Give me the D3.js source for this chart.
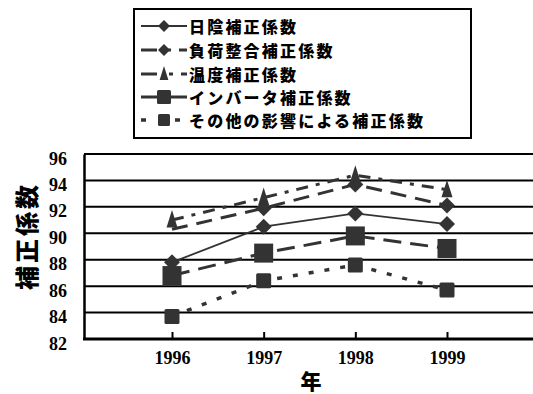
<!DOCTYPE html>
<html>
<head>
<meta charset="utf-8">
<script src="https://cdn.jsdelivr.net/npm/d3@7"></script>
<style>
  html, body { margin: 0; padding: 0; background: #fff; }
  svg { display: block; }
</style>
</head>
<body>
<svg id="chart" width="533" height="394"></svg>
<script>
// Years on the horizontal axis
const years = [1996, 1997, 1998, 1999];
// Correction factors per series (%)
const hikage   = [87.8, 90.5, 91.5, 90.7];   // 日陰補正係数
const fuka     = [90.3, 91.9, 93.7, 92.1];   // 負荷整合補正係数
const ondo     = [91.0, 92.7, 94.4, 93.3];   // 温度補正係数
const inverter = [86.8, 88.5, 89.8, 88.85];  // インバータ補正係数
const sonota   = [83.7, 86.4, 87.6, 85.7];   // その他の影響による補正係数
const seriesNames = ["日陰補正係数", "負荷整合補正係数", "温度補正係数", "インバータ補正係数", "その他の影響による補正係数"];
const yTicks = [82, 84, 86, 88, 90, 92, 94, 96];
const yTitle = "補正係数";
const xTitle = "年";

const ink = "#333";
const jp = "'Noto Sans CJK JP', 'Noto Sans', sans-serif";
const num = "'Liberation Serif', 'DejaVu Serif', serif";

const svg = d3.select("#chart");

const plot = { left: 84, right: 533, top: 154, bottom: 339 };
const x = d3.scaleLinear().domain([1996, 1999]).range([172, 447]);
const y = d3.scaleLinear().domain([82, 96]).range([plot.bottom, plot.top]);

// Horizontal gridlines
svg.append("g").selectAll("line").data(yTicks.filter(v => v > 82)).join("line")
  .attr("x1", plot.left).attr("x2", plot.right)
  .attr("y1", d => y(d)).attr("y2", d => y(d))
  .attr("stroke", "#000").attr("stroke-width", 2);

// Y axis with labels
const yAxis = d3.axisLeft(y).tickValues(yTicks).tickSize(0).tickPadding(17);
const gy = svg.append("g").attr("transform", `translate(${plot.left},0)`).call(yAxis);
gy.select(".domain").attr("stroke", "#000").attr("stroke-width", 2.5);
gy.selectAll("text")
  .attr("font-family", num).attr("font-weight", "bold").attr("font-size", 18)
  .attr("fill", "#000").attr("dy", "0.95em").attr("y", -7);

// X axis: ticks point up into the plot
const xAxis = d3.axisBottom(x).tickValues(years).tickFormat(d3.format("d")).tickSize(-7).tickSizeOuter(0).tickPadding(16);
const gx = svg.append("g").attr("transform", `translate(0,${plot.bottom})`).call(xAxis);
gx.select(".domain").remove();
gx.append("line").attr("x1", plot.left - 1).attr("x2", plot.right).attr("y1", 0).attr("y2", 0)
  .attr("stroke", "#000").attr("stroke-width", 3);
gx.selectAll(".tick line").attr("stroke", "#000").attr("stroke-width", 2);
gx.selectAll("text")
  .attr("font-family", num).attr("font-weight", "bold").attr("font-size", 18)
  .attr("fill", "#000").attr("y", 25).attr("dy", 0);

// Axis titles
svg.append("text").attr("transform", "translate(36,236) rotate(-90)")
  .attr("text-anchor", "middle").attr("font-family", jp).attr("font-weight", 900)
  .attr("font-size", 24).attr("letter-spacing", 3).attr("fill", "#000").text(yTitle);
svg.append("text").attr("x", 311).attr("y", 389).attr("text-anchor", "middle")
  .attr("font-family", jp).attr("font-weight", 900).attr("font-size", 21)
  .attr("fill", "#000").text(xTitle);

// Marker shapes
function marker(g, kind, cx, cy, s) {
  if (kind === "diamond") {
    g.append("path").attr("d", `M${cx},${cy - s}L${cx + s},${cy}L${cx},${cy + s}L${cx - s},${cy}Z`).attr("fill", ink);
  } else if (kind === "triangle") {
    g.append("path").attr("d", `M${cx},${cy - s}L${cx + s * 0.55},${cy + s * 0.75}L${cx - s * 0.55},${cy + s * 0.75}Z`).attr("fill", ink);
  } else if (kind === "square") {
    g.append("rect").attr("x", cx - s).attr("y", cy - s).attr("width", 2 * s).attr("height", 2 * s)
      .attr("rx", s > 8 ? 0 : 1.5).attr("fill", ink);
  }
}

const series = [
  { name: seriesNames[0], values: hikage,   kind: "diamond",  size: 8,   width: 1.8, dash: null,         legendDash: null,     skip: [] },
  { name: seriesNames[1], values: fuka,     kind: "diamond",  size: 8,   width: 3,   dash: "16,9",       legendDash: "16,8,6,8", skip: [0] },
  { name: seriesNames[2], values: ondo,     kind: "triangle", size: 10,  width: 3,   dash: "12,8,4,8",   legendDash: "16,12,4,8", skip: [] },
  { name: seriesNames[3], values: inverter, kind: "square",   size: 9.5, width: 3,   dash: "18,9",       legendDash: null,     skip: [] },
  { name: seriesNames[4], values: sonota,   kind: "square",   size: 7.5, width: 3.5, dash: "5,11",       legendDash: "5,12",   skip: [] }
];

const line = d3.line().x(d => x(d.year)).y(d => y(d.value));

series.forEach(s => {
  const pts = years.map((yr, i) => ({ year: yr, value: s.values[i] }));
  const g = svg.append("g");
  g.append("path").datum(pts).attr("d", line)
    .attr("fill", "none").attr("stroke", ink).attr("stroke-width", s.width)
    .attr("stroke-dasharray", s.dash);
  pts.forEach((p, i) => {
    if (!s.skip.includes(i)) marker(g, s.kind, x(p.year), y(p.value), s.size);
  });
});

// Legend
const lg = svg.append("g");
lg.append("rect").attr("x", 134).attr("y", 9).attr("width", 337).attr("height", 129)
  .attr("fill", "#fff").attr("stroke", "#000").attr("stroke-width", 2);
const rowY = [26, 50, 74, 97, 120];
series.forEach((s, i) => {
  const cy = rowY[i];
  lg.append("line").attr("x1", 141).attr("x2", 187).attr("y1", cy).attr("y2", cy)
    .attr("stroke", ink).attr("stroke-width", s.width)
    .attr("stroke-dasharray", s.legendDash);
  const ls = s.kind === "square" ? (i === 3 ? 7 : 6) : (s.kind === "triangle" ? 8 : 6);
  marker(lg, s.kind, 164, cy, ls);
  lg.append("text").attr("x", 189).attr("y", cy + 6.5)
    .attr("font-family", jp).attr("font-weight", 900).attr("font-size", 16)
    .attr("letter-spacing", 2.2).attr("fill", "#000").text(s.name);
});
</script>
</body>
</html>
